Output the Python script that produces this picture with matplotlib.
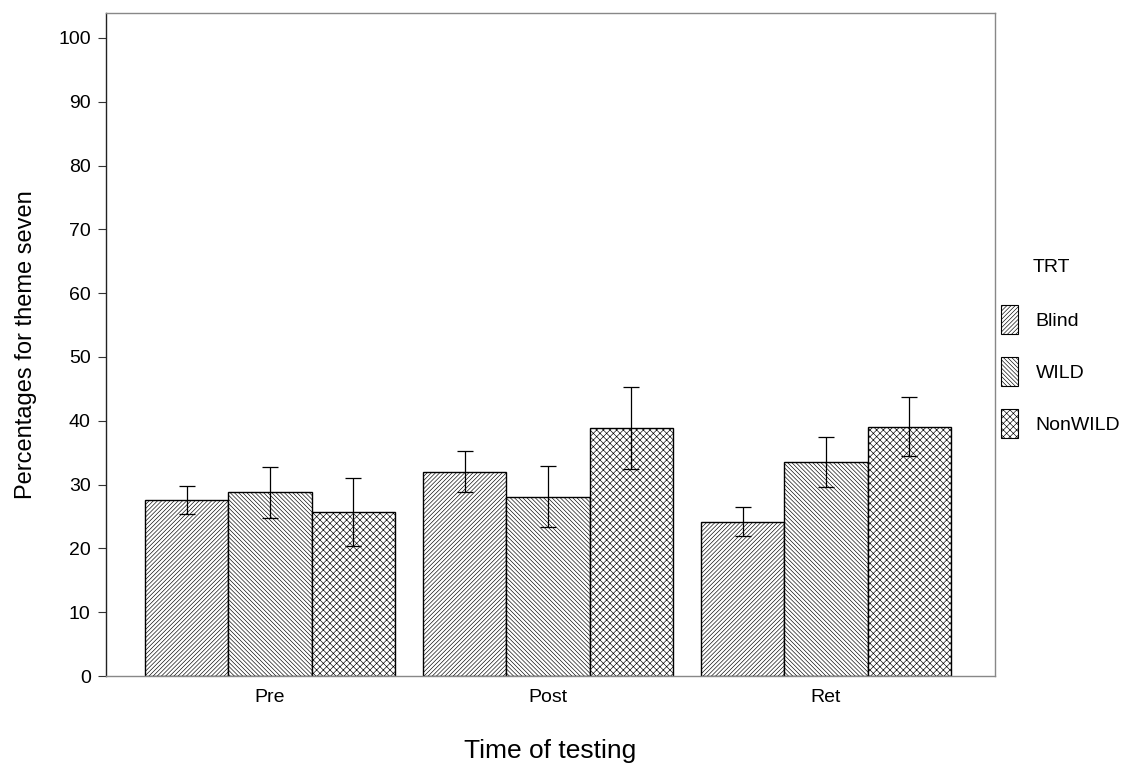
import numpy as np
import matplotlib.pyplot as plt
from matplotlib.patches import Patch

plt.rcParams["font.family"] = ["Liberation Sans", "DejaVu Sans"]
plt.rcParams["hatch.linewidth"] = 0.45

# données
times = ["Pre", "Post", "Ret"]
groups = ["Blind", "WILD", "NonWILD"]
means = {
    "Blind":   [27.6, 32.0, 24.2],
    "WILD":    [28.8, 28.1, 33.5],
    "NonWILD": [25.7, 38.9, 39.1],
}
errs = {
    "Blind":   [2.2, 3.2, 2.3],
    "WILD":    [4.0, 4.8, 3.9],
    "NonWILD": [5.3, 6.4, 4.6],
}
hatches = {"Blind": "////////", "WILD": "\\\\\\\\\\\\\\\\", "NonWILD": "xxxxx"}

fig = plt.figure(figsize=(11.26, 7.65), dpi=100)
ax = fig.add_axes([0.0941, 0.1163, 0.7896, 0.8667])

x = np.arange(len(times))
w = 0.3
for i, g in enumerate(groups):
    pos = x + (i - 1) * w
    ax.bar(pos, means[g], width=w, color="white", edgecolor="black",
           linewidth=1.0, hatch=hatches[g], zorder=2)
    ax.errorbar(pos, means[g], yerr=errs[g], fmt="none", ecolor="black",
                elinewidth=0.9, capsize=6, capthick=0.9, zorder=3)

ax.set_xlim(-0.59, 2.608)
ax.set_ylim(0, 103.9)
ax.set_yticks(np.arange(0, 101, 10))
ax.set_xticks(x)
ax.set_xticklabels(times)
ax.tick_params(axis="y", labelsize=14, length=6, width=0.8, color="#333333", pad=5)
ax.tick_params(axis="x", labelsize=14, length=0, pad=9)
for s in ax.spines.values():
    s.set_color("#888888")
    s.set_linewidth(1.0)
ax.spines["left"].set_color("#222222")

ax.set_ylabel("Percentages for theme seven", fontsize=17, labelpad=15)
ax.set_xlabel("Time of testing", fontsize=19, labelpad=24)

# légende
fig.text(1033 / 1126, 1 - 268 / 765, "TRT", fontsize=14, va="center", ha="left")
handles = [Patch(facecolor="white", edgecolor="black", linewidth=0.8,
                 hatch=hatches[g], label=g) for g in groups]
fig.legend(handles=handles, loc="upper left",
           bbox_to_anchor=(1001 / 1126, 1 - 305 / 765), frameon=False,
           fontsize=14, handlelength=0.87, handleheight=1.9,
           labelspacing=1.2, handletextpad=0.9, borderpad=0, borderaxespad=0)

fig.savefig("out.png", dpi=100)
